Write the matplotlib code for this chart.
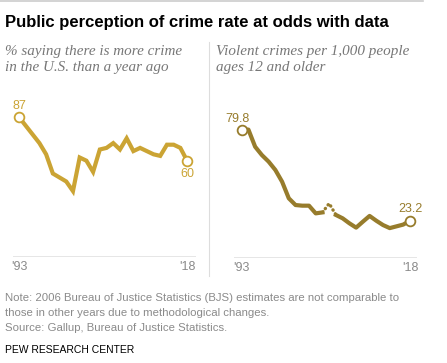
import numpy as np
import matplotlib
matplotlib.use("Agg")
import matplotlib.pyplot as plt

# Gallup: % saying there is more crime than a year ago
gallup_years = [1993, 1996, 1997, 1998, 2000, 2001, 2002, 2003, 2004, 2005, 2006,
                2007, 2008, 2009, 2010, 2011, 2013, 2014, 2015, 2016, 2017, 2018]
gallup_pct = [87, 71, 64, 52, 47, 41, 62, 60, 53, 67, 68,
              71, 67, 74, 66, 68, 64, 63, 70, 70, 68, 60]

# BJS: violent crimes per 1,000 people ages 12+
bjs_years = list(range(1993, 2019))
bjs_rate = [79.8, 80.1, 69.4, 64.2, 60.1, 54.9, 47.6, 37.2, 33.0, 32.6, 32.6, 27.8, 28.4,
            34.0, 26.8, 24.7, 21.6, 18.9, 22.6, 26.2, 23.2, 20.5, 18.6, 19.7, 20.8, 23.2]
bjs_break = 2006  # not comparable year

gold = "#cba434"
olive = "#977c2c"
gray = "#8a8a8a"
W, H = 447, 363

fig = plt.figure(figsize=(W / 100, H / 100), dpi=100)


def box(x0, x1, y_base, y_top):
    # pixel box -> figure fraction
    return [x0 / W, (H - y_base) / H, (x1 - x0) / W, (y_base - y_top) / H]


def style(ax):
    for s in ax.spines.values():
        s.set_visible(False)
    ax.set_yticks([])
    ax.set_xticks([1993, 2018])
    ax.set_xticklabels(["'93", "'18"], color=gray, fontsize=9, family="Liberation Sans")
    ax.tick_params(axis="x", length=0, pad=3)
    ax.axhline(0, color="#e3e3e3", lw=2, zorder=0)
    ax.set_ylim(0, 100)
    ax.patch.set_alpha(0)


# left panel
ax1 = fig.add_axes(box(12.7, 196, 256.7, 96.7))
style(ax1)
ax1.set_xlim(1992.02, 2019.33)
ax1.plot(gallup_years, gallup_pct, color=gold, lw=3, solid_joinstyle="miter", zorder=2)
ax1.plot([gallup_years[0], gallup_years[-1]], [gallup_pct[0], gallup_pct[-1]], "o", ls="none",
         mfc="white", mec=gold, mew=1.3, ms=7, zorder=3)
ax1.annotate(f"{gallup_pct[0]}", (gallup_years[0], gallup_pct[0]), xytext=(0, 4),
             textcoords="offset points", ha="center", va="bottom", color=gold, fontsize=9,
             family="Liberation Sans")
ax1.annotate(f"{gallup_pct[-1]}", (gallup_years[-1], gallup_pct[-1]), xytext=(0, -5),
             textcoords="offset points", ha="center", va="top", color=gold, fontsize=9,
             family="Liberation Sans")

# right panel
ax2 = fig.add_axes(box(234, 416.7, 257.9, 97.7))
style(ax2)
ax2.set_xlim(1991.86, 2019.0)
yrs = np.array(bjs_years)
rate = np.array(bjs_rate)
i = bjs_years.index(bjs_break)
solid = rate.copy()
solid[i] = np.nan
ax2.plot(yrs, solid, color=olive, lw=3, zorder=2)
ax2.plot(yrs[i - 1:i + 2], rate[i - 1:i + 2], color=olive, lw=2.4, ls=(0, (0.1, 1.3)),
         dash_capstyle="round", zorder=2)
ax2.plot([yrs[0], yrs[-1]], [rate[0], rate[-1]], "o", ls="none",
         mfc="white", mec=olive, mew=1.3, ms=7, zorder=3)
ax2.annotate(f"{rate[0]}", (yrs[0], rate[0]), xytext=(-3, 3.5),
             textcoords="offset points", ha="center", va="bottom", color=olive, fontsize=9,
             family="Liberation Sans")
ax2.annotate(f"{rate[-1]}", (yrs[-1], rate[-1]), xytext=(0, 4),
             textcoords="offset points", ha="center", va="bottom", color=olive, fontsize=9,
             family="Liberation Sans")

# divider and top rule
fig.add_artist(plt.Line2D([209 / W, 209 / W], [1 - 42 / H, 1 - 276 / H], color="#dddddd", lw=0.8))
fig.add_artist(plt.Line2D([0, 423 / W], [1 - 0.8 / H, 1 - 0.8 / H], color="#cccccc", lw=1.2))

# title and subtitles
fig.text(5 / W, 1 - 22 / H, "Public perception of crime rate at odds with data",
         fontsize=12.0, fontweight="bold", family="Liberation Sans", va="center")
sub = dict(fontsize=10.9, style="italic", family="Liberation Serif", color="#777777", va="center",
           linespacing=1.4)
fig.text(5 / W, 1 - 59.5 / H, "% saying there is more crime\nin the U.S. than a year ago", **sub)
fig.text(216 / W, 1 - 59.5 / H, "Violent crimes per 1,000 people\nages 12 and older", **sub)

# footer
foot = dict(fontsize=8.2, family="Liberation Sans", color=gray, va="center")
fig.text(5 / W, 1 - 298 / H, "Note: 2006 Bureau of Justice Statistics (BJS) estimates are not comparable to", **foot)
fig.text(5 / W, 1 - 313 / H, "those in other years due to methodological changes.", **foot)
fig.text(5 / W, 1 - 328 / H, "Source: Gallup, Bureau of Justice Statistics.", **foot)
fig.text(5 / W, 1 - 350 / H, "PEW RESEARCH CENTER", fontsize=7.5, family="Liberation Sans",
         color="black", va="center")

fig.savefig("out.png", dpi=100)
